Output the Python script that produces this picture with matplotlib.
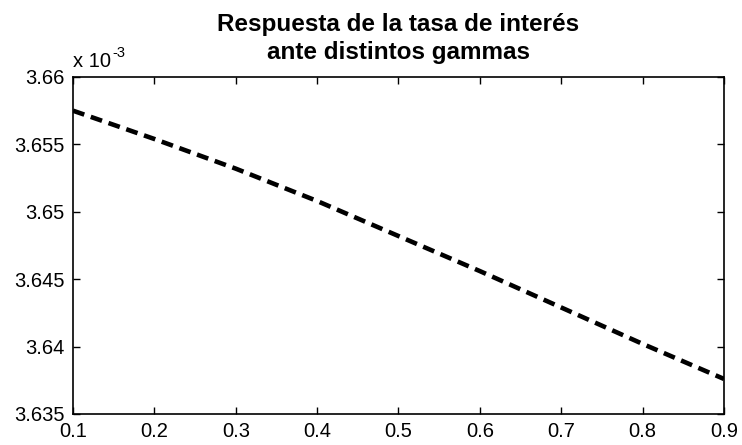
import matplotlib
matplotlib.use('Agg')
import matplotlib.pyplot as plt
from matplotlib.ticker import FuncFormatter
from matplotlib.transforms import ScaledTranslation

plt.rcParams['font.family'] = ['Liberation Sans', 'DejaVu Sans']

# gamma values and interest-rate response
gammas = [0.1, 0.2, 0.3, 0.4, 0.5, 0.6, 0.7, 0.8, 0.9]
tasa = [3.6575e-3, 3.6554e-3, 3.6532e-3, 3.6508e-3, 3.6482e-3,
        3.6456e-3, 3.6429e-3, 3.6402e-3, 3.6376e-3]

xticks = [0.1, 0.2, 0.3, 0.4, 0.5, 0.6, 0.7, 0.8, 0.9]
yticks = [3.635e-3, 3.64e-3, 3.645e-3, 3.65e-3, 3.655e-3, 3.66e-3]

fig = plt.figure(figsize=(7.42, 4.45), dpi=100)
ax = fig.add_axes([0.0984, 0.0697, 0.8773, 0.7573])

ax.plot(gammas, tasa, color='black', linewidth=3.3, linestyle='--',
        dashes=(2.6, 1.5))

ax.set_xlim(0.1, 0.9)
ax.set_ylim(3.635e-3, 3.66e-3)
ax.set_xticks(xticks)
ax.set_yticks(yticks)
ax.xaxis.set_major_formatter(FuncFormatter(lambda v, p: '%g' % round(v, 3)))
ax.yaxis.set_major_formatter(FuncFormatter(lambda v, p: '%g' % round(v * 1e3, 4)))
ax.tick_params(direction='in', length=5, width=1, top=True, right=True,
               labelsize=14.5, pad=6)
for s in ax.spines.values():
    s.set_linewidth(1.2)

# multiplicador estilo MATLAB
off = lambda dx, dy: ax.transAxes + ScaledTranslation(dx / 100, dy / 100, fig.dpi_scale_trans)
ax.text(0, 1, 'x 10', transform=off(0, 10), fontsize=14.5, ha='left', va='baseline')
ax.text(0, 1, '-3', transform=off(39, 20), fontsize=10.5, ha='left', va='baseline')

ax.set_title('Respuesta de la tasa de interés\nante distintos gammas',
             fontsize=17.5, fontweight='bold', pad=13, linespacing=1.25)

fig.savefig('out.png', dpi=100)
